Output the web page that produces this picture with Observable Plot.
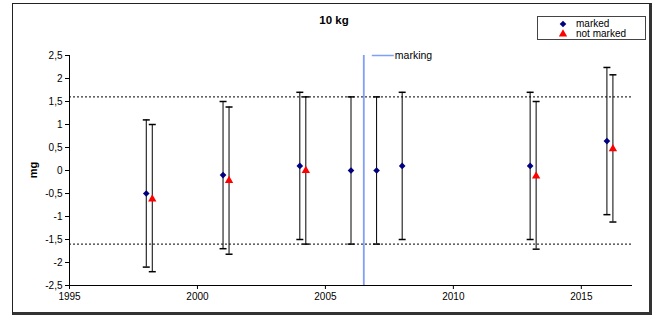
<!DOCTYPE html>
<html><head><meta charset="utf-8">
<script src="https://cdn.jsdelivr.net/npm/d3@7"></script>
<script src="https://cdn.jsdelivr.net/npm/@observablehq/plot@0.6"></script>
<style>
body{margin:0;background:#fff;font-family:"Liberation Sans",Arial,sans-serif;}
#wrap{position:relative;width:659px;height:320px;overflow:hidden;}
#frame{position:absolute;left:12px;top:3px;width:640px;height:312px;border:1px solid #222;border-right:3px solid #333;border-bottom:3px solid #333;box-sizing:border-box;pointer-events:none;}
#title{position:absolute;left:0;width:668px;top:14px;text-align:center;font-weight:bold;font-size:11.5px;}
#ylabel{position:absolute;left:33px;top:170px;transform:translate(-50%,-50%) rotate(-90deg);font-weight:bold;font-size:11px;}
#legend{position:absolute;left:537px;top:16px;width:109px;height:24px;border:1px solid #444;box-sizing:border-box;background:#fff;font-size:10px;line-height:10px;}
#legend .row{position:absolute;left:0;white-space:nowrap;}
#legend svg{position:absolute;}
</style>
</head><body>
<div id="wrap">
  <div id="chart"></div>
  <div id="title">10 kg</div>
  <div id="ylabel">mg</div>
  <div id="legend"></div>
  <div id="frame"></div>
</div>
<script>
// ---- data ----
const markedYears  = [1998, 2001, 2004, 2006, 2007, 2008, 2013, 2016];
const markedValues = [-0.5, -0.1, 0.1, 0, 0, 0.1, 0.1, 0.64];
const markedLow    = [-2.1, -1.7, -1.5, -1.6, -1.6, -1.5, -1.5, -0.96];
const markedHigh   = [1.1, 1.5, 1.7, 1.6, 1.6, 1.7, 1.7, 2.24];

const notMarkedYears  = [1998, 2001, 2004, 2013, 2016];
const notMarkedValues = [-0.62, -0.22, 0, -0.12, 0.47];
const notMarkedLow    = [-2.2, -1.82, -1.6, -1.71, -1.12];
const notMarkedHigh   = [1.0, 1.38, 1.6, 1.5, 2.08];

const limits = [1.6, -1.6];
const markingYear = 2006.5;
const markingLabel = "marking";
const xTicks = [1995, 2000, 2005, 2010, 2015];
const yTicks = [-2.5, -2, -1.5, -1, -0.5, 0, 0.5, 1, 1.5, 2, 2.5];
const seriesNames = ["marked", "not marked"];
const seriesColors = ["#000080", "#ff0000"];

// ---- build tables ----
const marked = markedYears.map((y, i) => ({year: y, v: markedValues[i], lo: markedLow[i], hi: markedHigh[i]}));
const notMarked = notMarkedYears.map((y, i) => ({year: y, v: notMarkedValues[i], lo: notMarkedLow[i], hi: notMarkedHigh[i]}));

const cap = {draw(ctx) { ctx.moveTo(-3.5, 0); ctx.lineTo(3.5, 0); }};
const hline = {draw(ctx) { ctx.moveTo(-11, 0); ctx.lineTo(11, 0); }};
const OFF = 6;

const chart = Plot.plot({
  width: 659, height: 320,
  marginLeft: 69, marginRight: 27, marginTop: 55, marginBottom: 35,
  x: {domain: [1995, 2017]},
  y: {domain: [-2.5, 2.5]},
  style: {fontFamily: "Liberation Sans, Arial, sans-serif", fontSize: "10px", color: "#000", background: "transparent", overflow: "visible"},
  marks: [
    Plot.ruleY(limits, {stroke: "#000", strokeDasharray: "2,2", strokeWidth: 1}),
    Plot.ruleX([markingYear], {stroke: "#7f9ff8", strokeWidth: 1.8}),
    Plot.dot([markingYear], {x: d => d, y: () => 2.5, symbol: hline, fill: "none", stroke: "#7f9ff8", strokeWidth: 1.5, dx: 19}),
    Plot.text([markingLabel], {x: () => markingYear, y: () => 2.5, text: d => d, dx: 31, textAnchor: "start", fontSize: 10.5}),
    Plot.ruleX([1995], {stroke: "#000"}),
    Plot.ruleY([-2.5], {stroke: "#000"}),
    Plot.axisX({ticks: xTicks, tickFormat: d => String(d), tickSize: 4, tickPadding: 3, label: null, fontSize: 10}),
    Plot.axisY({ticks: yTicks, tickFormat: d => String(d).replace(".", ","), tickSize: 4, tickPadding: 3, label: null, fontSize: 10}),
    // error bars
    Plot.ruleX(marked, {x: "year", y1: "lo", y2: "hi", stroke: "#000", strokeWidth: 1}),
    Plot.dot(marked, {x: "year", y: "lo", symbol: cap, fill: "none", stroke: "#000"}),
    Plot.dot(marked, {x: "year", y: "hi", symbol: cap, fill: "none", stroke: "#000"}),
    Plot.ruleX(notMarked, {x: "year", y1: "lo", y2: "hi", stroke: "#000", strokeWidth: 1, dx: OFF}),
    Plot.dot(notMarked, {x: "year", y: "lo", symbol: cap, fill: "none", stroke: "#000", dx: OFF}),
    Plot.dot(notMarked, {x: "year", y: "hi", symbol: cap, fill: "none", stroke: "#000", dx: OFF}),
    // points
    Plot.dot(marked, {x: "year", y: "v", symbol: "diamond2", r: 3, fill: seriesColors[0], stroke: "none"}),
    Plot.dot(notMarked, {x: "year", y: "v", symbol: "triangle", r: 3.1, fill: seriesColors[1], stroke: "none", dx: OFF})
  ]
});
document.getElementById("chart").appendChild(chart);

// legend
const legend = document.getElementById("legend");
const symbols = [d3.symbolDiamond2, d3.symbolTriangle];
seriesNames.forEach((name, i) => {
  const top = 2 + i * 10;
  const svg = d3.create("svg").attr("width", 10).attr("height", 10)
    .style("left", "20px").style("top", top + "px");
  svg.append("path").attr("transform", "translate(5,5)")
    .attr("d", d3.symbol(symbols[i], i === 0 ? 28 : 30)()).attr("fill", seriesColors[i]);
  legend.appendChild(svg.node());
  const row = document.createElement("div");
  row.className = "row";
  row.style.left = "38px";
  row.style.top = top + "px";
  row.textContent = name;
  legend.appendChild(row);
});
</script>
</body></html>
